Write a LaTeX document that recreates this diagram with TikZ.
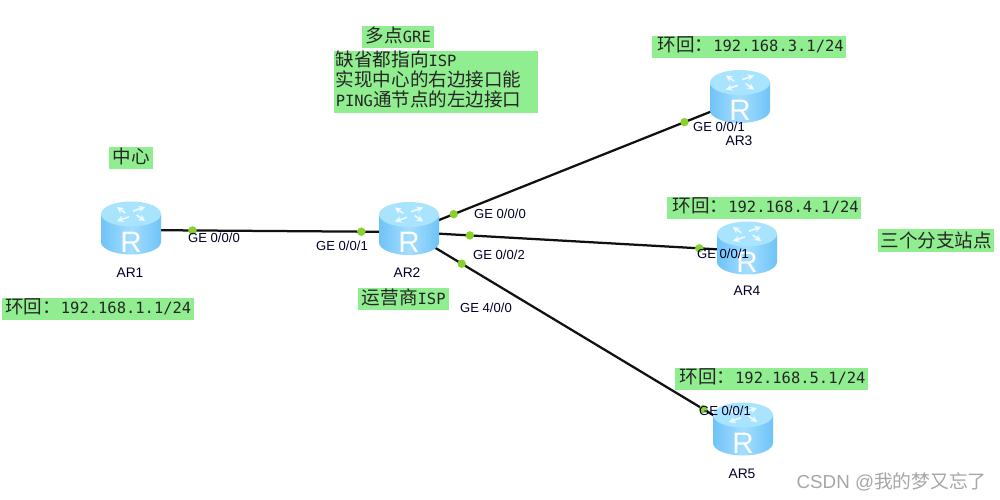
\documentclass[tikz,border=0pt]{standalone}
\usepackage{fontspec}
\setmainfont{Liberation Sans}
\setmonofont{DejaVu Sans Mono}
\newfontfamily\cjk{Noto Sans CJK SC}
\usepackage{xcolor}
\usetikzlibrary{calc}
\definecolor{notegreen}{HTML}{90ee90}
\definecolor{portgreen}{HTML}{8ad02f}
\definecolor{routertop}{HTML}{a9e4ff}
\definecolor{routerside}{HTML}{6fc3f7}
\definecolor{routermid}{HTML}{a4deff}
\definecolor{linkblack}{HTML}{111111}
\definecolor{marktext}{HTML}{a6a6a6}
\newcommand{\monotext}[1]{{\ttfamily\fontsize{11}{14}\selectfont #1}}
\tikzset{
  site/.style={circle,inner sep=0pt,minimum size=1pt},
  link/.style={linkblack,line width=1.6pt},
  portdot/.style={circle,fill=portgreen,inner sep=0pt,minimum size=6pt},
  portlabel/.style={font=\fontsize{9.3}{11}\selectfont,text=black!85!blue,inner sep=0pt},
  routerlabel/.style={font=\fontsize{9.8}{11}\selectfont,text=black!85!blue,inner sep=0pt},
  note/.style={fill=notegreen,anchor=north west,inner sep=0pt,align=left,text=black!85,
    font=\cjk\fontsize{13.2}{14.2}\selectfont},
  oneline/.style={note,text depth=4pt},
  routerpic/.pic={
    \path[left color=routerside,right color=routerside,middle color=routermid]
      (-30,-14) -- (-30,14) arc[start angle=180,end angle=0,x radius=30,y radius=12.5]
      -- (30,-14) -- cycle;
    \fill[routertop] (0,-14) ellipse[x radius=30,y radius=12.5];
    \foreach \a in {20,110,200,290}
      \draw[white,line width=1.1pt,-stealth,opacity=0.85]
        ($(0,-14)+(\a:6 and 3)$) -- ($(0,-14)+(\a+25:20 and 10)$);
    \node[white,inner sep=0pt,font=\fontsize{21}{21}\selectfont] at (0,14) {R};
  },
}
\begin{document}
\begin{tikzpicture}[x=0.025cm,y=-0.025cm]
  \fill[white] (0,0) rectangle (1000,500);
  \useasboundingbox (0,0) rectangle (1000,500);
  % sites
  \node[site] (ar1) at (131,230) {};
  \node[site] (ar2) at (409,232) {};
  \node[site] (ar3) at (740,100) {};
  \node[site] (ar4) at (747,251) {};
  \node[site] (ar5) at (743,433) {};
  % links
  \draw[link] (ar1) -- (ar2);
  \draw[link] (ar2) -- (ar3);
  \draw[link] (ar2) -- (ar4);
  \draw[link] (ar2) -- (ar5);
  % routers
  \pic at (131,228) {routerpic};
  \pic at (409,228.5) {routerpic};
  \pic at (740,96.5) {routerpic};
  \pic at (747,248) {routerpic};
  \pic at (743,429) {routerpic};
  % ports
  \path (ar1) -- (ar2) node[portdot,pos=0.219] (port1a) {} node[portdot,pos=0.831] (port2a) {};
  \path (ar2) -- (ar3) node[portdot,pos=0.133] (port2b) {} node[portdot,pos=0.834] (port3a) {};
  \path (ar2) -- (ar4) node[portdot,pos=0.178] (port2c) {} node[portdot,pos=0.861] (port4a) {};
  \path (ar2) -- (ar5) node[portdot,pos=0.156] (port2d) {} node[portdot,pos=0.883] (port5a) {};
  \node[portlabel] (ge1) at (214,238) {GE 0/0/0};
  \node[portlabel] (ge2) at (342,246) {GE 0/0/1};
  \node[portlabel] (ge3) at (500,214) {GE 0/0/0};
  \node[portlabel] (ge4) at (499,255) {GE 0/0/2};
  \node[portlabel] (ge5) at (486,308) {GE 4/0/0};
  \node[portlabel] (ge6) at (719,127) {GE 0/0/1};
  \node[portlabel] (ge7) at (723,254) {GE 0/0/1};
  \node[portlabel] (ge8) at (725,411) {GE 0/0/1};
  \node[routerlabel] (name1) at (130,273) {AR1};
  \node[routerlabel] (name2) at (407,273) {AR2};
  \node[routerlabel] (name3) at (739,141) {AR3};
  \node[routerlabel] (name4) at (747,291) {AR4};
  \node[routerlabel] (name5) at (742,474) {AR5};
  % notes
  \node[oneline,minimum width=44*0.025cm,minimum height=22*0.025cm,align=center] (center) at (109,147) {中心};
  \node[oneline,minimum width=72*0.025cm,minimum height=22*0.025cm,align=center] (title) at (362,26)
    {多点\monotext{GRE}};
  \node[note,minimum width=204*0.025cm,minimum height=61*0.025cm,text width=201*0.025cm] (goal) at (334,51)
    {缺省都指向\monotext{ISP}\\实现中心的右边接口能\\\monotext{PING}通节点的左边接口\rule[-4.5pt]{0pt}{1pt}};
  \node[oneline,minimum width=194*0.025cm,minimum height=22*0.025cm] (loop3) at (652,36)
    {\hspace{2pt}环回：\monotext{192.168.3.1/24}};
  \node[oneline,minimum width=194*0.025cm,minimum height=22*0.025cm] (loop4) at (667,197)
    {\hspace{2pt}环回：\monotext{192.168.4.1/24}};
  \node[oneline,minimum width=193*0.025cm,minimum height=22*0.025cm] (loop5) at (675,368)
    {\hspace{1pt}环回：\monotext{192.168.5.1/24}};
  \node[oneline,minimum width=192*0.025cm,minimum height=22*0.025cm] (loop1) at (2,298)
    {环回：\monotext{192.168.1.1/24}};
  \node[oneline,minimum width=91*0.025cm,minimum height=22*0.025cm,align=center] (isp) at (358,288)
    {运营商\monotext{ISP}};
  \node[oneline,minimum width=116*0.025cm,minimum height=23*0.025cm,align=center,text depth=2pt] (branch) at (878,229) {三个分支站点};
  % watermark
  \node[anchor=east,inner sep=0pt,text=marktext,font=\fontsize{13.35}{15}\selectfont] (mark) at (987,482)
    {CSDN @{\cjk 我的梦又忘了}};
\end{tikzpicture}
\end{document}
